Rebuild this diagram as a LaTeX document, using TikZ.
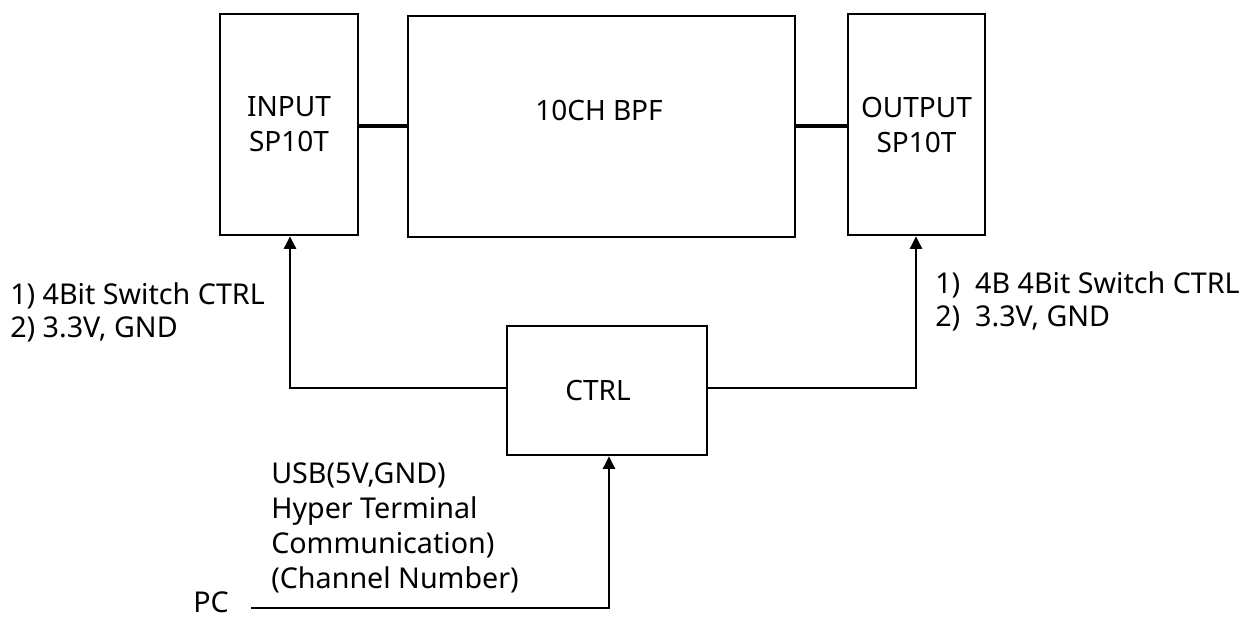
\documentclass[tikz,border=0pt]{standalone}
\usepackage{fontspec}
\setmainfont{Noto Sans}
\usetikzlibrary{arrows.meta}
\begin{document}
\begin{tikzpicture}[x=0.75pt,y=-0.75pt,
  box/.style={draw=black, line width=1.9pt, fill=white, inner sep=0pt, align=center,
              font=\fontsize{21}{26.25}\selectfont},
  txt/.style={inner sep=0pt, font=\fontsize{21.5}{24.75}\selectfont, align=left},
  link/.style={line width=3.4pt},
  ctl/.style={line width=1.9pt, -{Triangle[length=9.5pt,width=9pt]}}]
\useasboundingbox (0,0) rectangle (1257,619);
\node[box, minimum width=103.5pt, minimum height=165.75pt] (in) at (289,124.5) {INPUT\\SP10T};
\node[box, minimum width=290.25pt, minimum height=165.75pt] (bpf) at (601.5,126.5) {};
\node[inner sep=0pt, font=\fontsize{21}{26.25}\selectfont] (bpft) at (599,110) {10CH BPF};
\node[box, minimum width=102.75pt, minimum height=165.75pt] (out) at (916.5,124.5) {OUTPUT\\SP10T};
\node[box, minimum width=150pt, minimum height=96.75pt] (ctrl) at (607,390.5) {};
\node[inner sep=0pt, font=\fontsize{21}{26.25}\selectfont] (ctrlt) at (598,390) {CTRL};
\draw[link] (in.east |- 0,126) -- (bpf.west |- 0,126);
\draw[link] (bpf.east |- 0,126) -- (out.west |- 0,126);
\draw[ctl] (ctrl.west |- 0,388) -| (in.south -| 290,0);
\draw[ctl] (ctrl.east |- 0,388) -| (out.south -| 916,0);
\node[inner sep=0pt, anchor=base west, font=\fontsize{21.5}{24.75}\selectfont] (pc) at (193,612) {PC};
\coordinate (pcs) at (251,608);
\draw[ctl] (pcs) -| (ctrl.south -| 609,0);
\node[txt, anchor=west] (ll) at (10,312) {1) 4Bit Switch CTRL\\2) 3.3V, GND};
\node[txt, anchor=west] (rl) at (935,301) {1)\ \ 4B 4Bit Switch CTRL\\2)\ \ 3.3V, GND};
\node[txt, anchor=west, font=\fontsize{21.5}{26.25}\selectfont] (usb) at (271,528) {USB(5V,GND)\\Hyper Terminal\\Communication)\\(Channel Number)};
\end{tikzpicture}
\end{document}
